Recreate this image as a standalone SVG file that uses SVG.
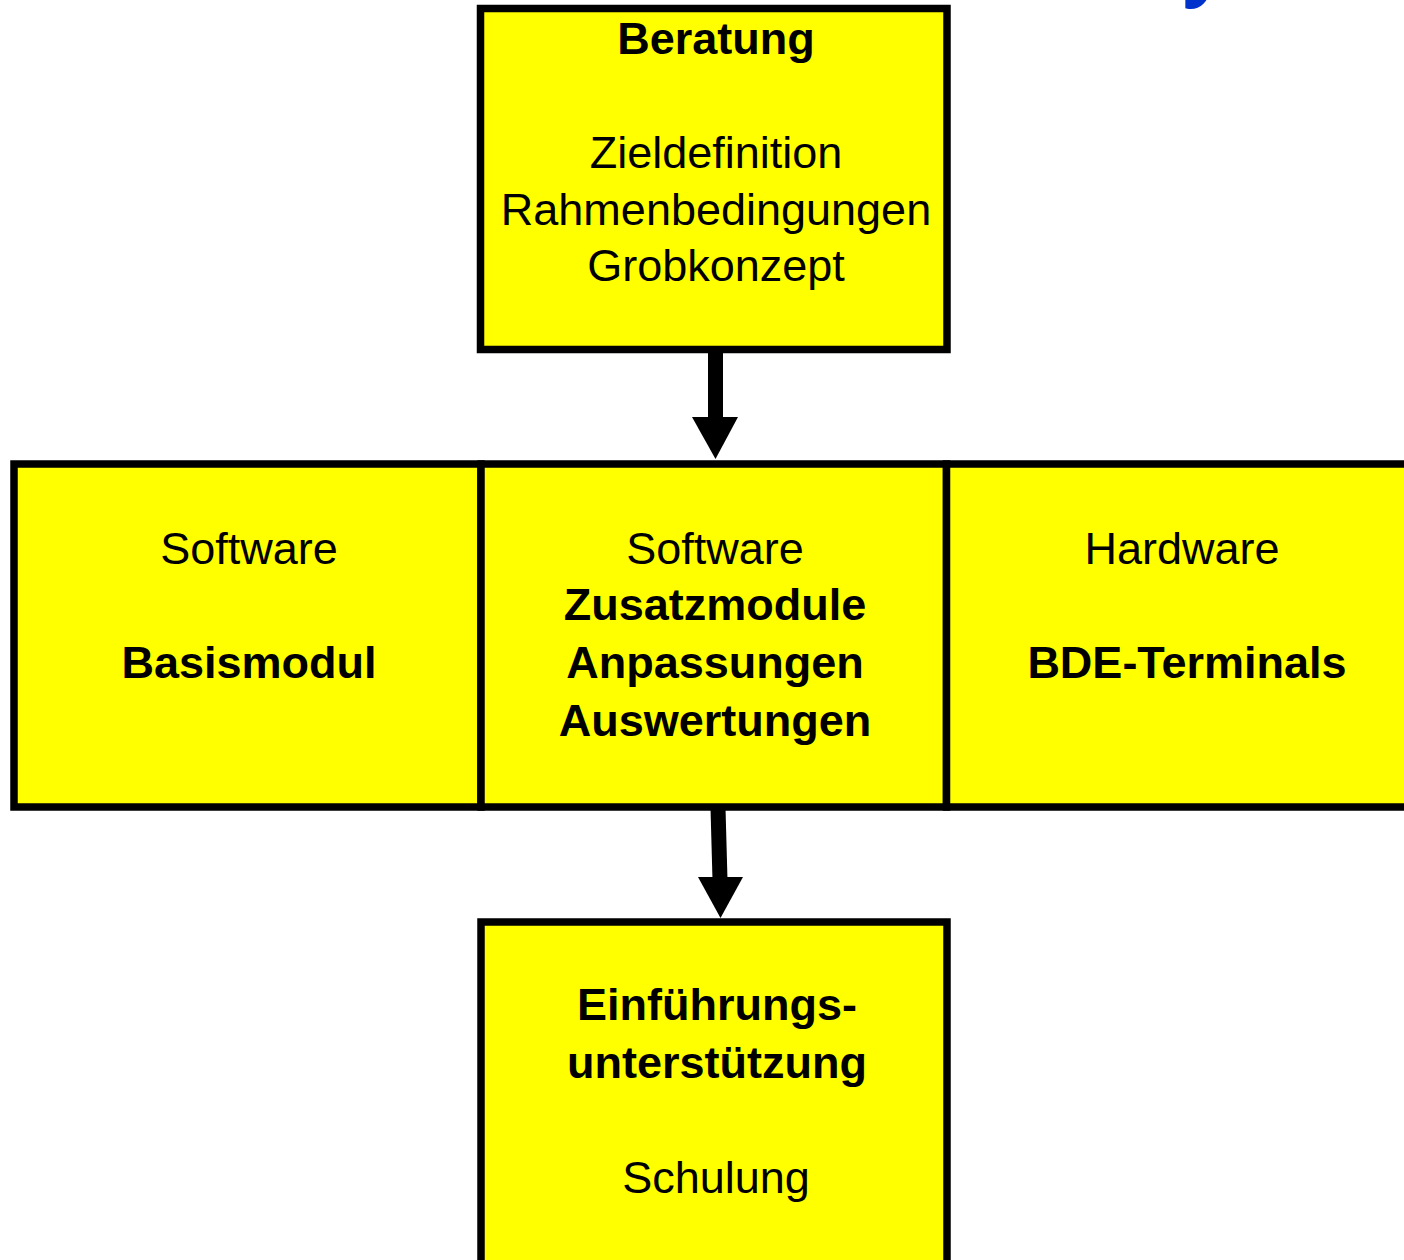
<svg xmlns="http://www.w3.org/2000/svg" width="1404" height="1260" viewBox="0 0 1404 1260">
<style>
.box{fill:#ffff00;stroke:#000;stroke-width:7.5}
.t{font-family:"Liberation Sans",Arial,sans-serif;font-size:45px;text-anchor:middle;fill:#000}
.b{font-weight:bold}
</style>
<rect width="1404" height="1260" fill="#fff"/>
<text x="1210" y="-9" font-family="'Open Sans',sans-serif" font-weight="bold" font-style="italic" font-size="75" fill="#0033cc" text-anchor="middle">y</text>
<g id="connectors">
<line x1="715.5" y1="350" x2="715.5" y2="420" stroke="#000" stroke-width="15"/>
<polygon points="692,417 738,417 715.5,459" fill="#000"/>
<line x1="718" y1="808" x2="720" y2="880" stroke="#000" stroke-width="15"/>
<polygon points="698,877 743,877 720.5,918" fill="#000"/>
</g>
<g id="beratung">
<rect class="box" x="480.5" y="8.5" width="466.5" height="341"/>
<text class="t b" x="716" y="54">Beratung</text>
<text class="t" x="716" y="168">Zieldefinition</text>
<text class="t" x="716" y="225">Rahmenbedingungen</text>
<text class="t" x="716" y="281">Grobkonzept</text>
</g>
<g id="basismodul">
<rect class="box" x="14" y="464" width="467" height="343"/>
<text class="t" x="249" y="564">Software</text>
<text class="t b" x="249" y="678">Basismodul</text>
</g>
<g id="zusatzmodule">
<rect class="box" x="481" y="464" width="465.5" height="343"/>
<text class="t" x="715" y="564">Software</text>
<text class="t b" x="715" y="620">Zusatzmodule</text>
<text class="t b" x="715" y="678">Anpassungen</text>
<text class="t b" x="715" y="736">Auswertungen</text>
</g>
<g id="hardware">
<rect class="box" x="946.5" y="464" width="470" height="343"/>
<text class="t" x="1182" y="564">Hardware</text>
<text class="t b" x="1187" y="678">BDE-Terminals</text>
</g>
<g id="einfuehrung">
<rect class="box" x="481" y="922" width="466" height="350"/>
<text class="t b" x="717" y="1020">Einführungs-</text>
<text class="t b" x="717" y="1078">unterstützung</text>
<text class="t" x="716" y="1193">Schulung</text>
</g>
</svg>
